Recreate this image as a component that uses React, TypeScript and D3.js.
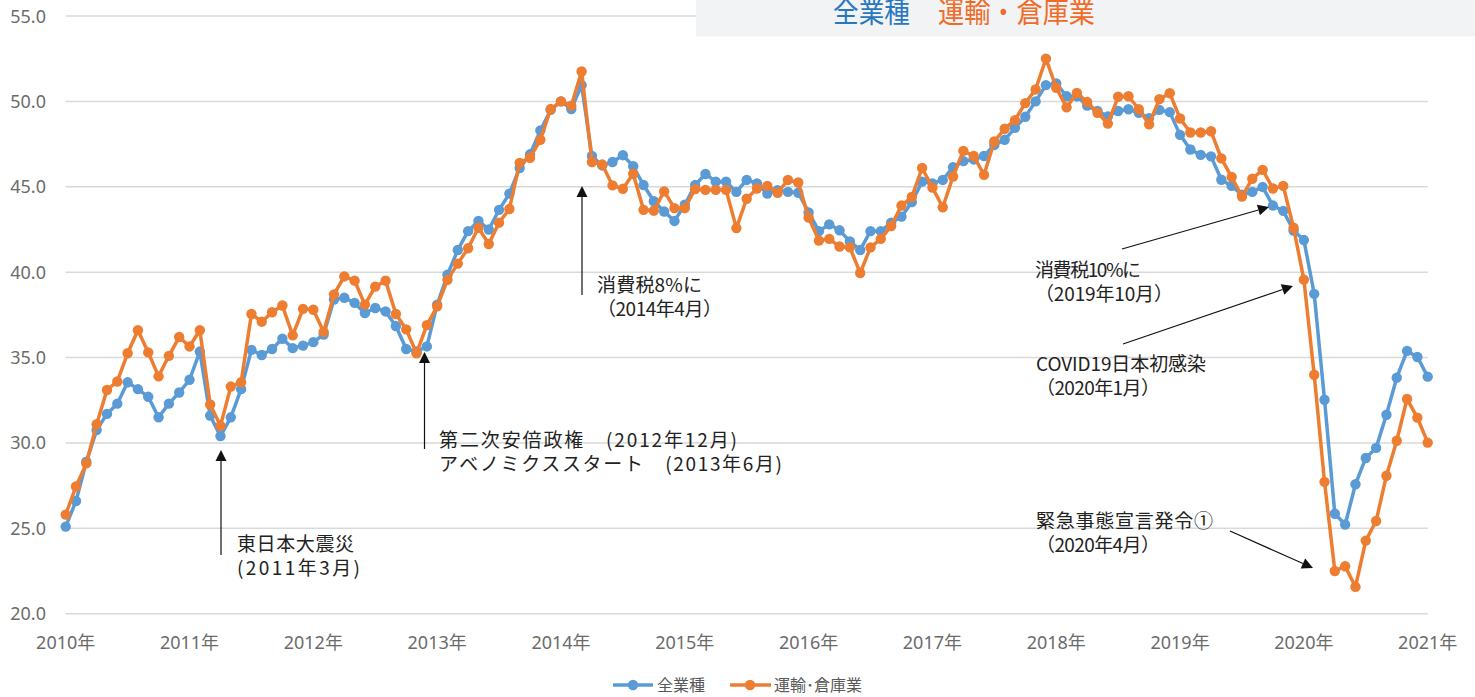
import React from "react";
import * as d3 from "d3";

// Monthly index values, Jan 2010 ... Jan 2021
const allIndustries: number[] = [
  // 2010
  25.1, 26.6, 28.9, 30.75, 31.7, 32.3, 33.55, 33.15, 32.7, 31.5, 32.3, 32.95,
  // 2011
  33.7, 35.35, 31.6, 30.4, 31.5, 33.15, 35.45, 35.15, 35.5, 36.1, 35.55, 35.7,
  // 2012
  35.9, 36.35, 38.4, 38.5, 38.2, 37.6, 37.9, 37.7, 36.85, 35.5, 35.35, 35.65,
  // 2013
  38.1, 39.85, 41.3, 42.4, 43.0, 42.5, 43.65, 44.6, 46.1, 46.9, 48.3, 49.5,
  // 2014
  50.0, 49.55, 50.95, 46.8, 46.25, 46.45, 46.85, 46.2, 45.1, 44.15, 43.55, 43.0,
  // 2015
  43.95, 45.1, 45.75, 45.3, 45.3, 44.7, 45.4, 45.2, 44.6, 44.8, 44.7, 44.65,
  // 2016
  43.5, 42.4, 42.8, 42.45, 41.8, 41.3, 42.4, 42.4, 42.9, 43.25, 44.1, 45.3,
  // 2017
  45.2, 45.4, 46.15, 46.5, 46.6, 46.8, 47.45, 47.75, 48.45, 49.1, 50.0, 50.95,
  // 2018
  51.05, 50.3, 50.3, 49.75, 49.44, 49.12, 49.44, 49.54, 49.33, 49.02, 49.5, 49.37,
  // 2019
  48.04, 47.18, 46.87, 46.78, 45.41, 45.05, 44.53, 44.7, 44.99, 43.9, 43.59, 42.44,
  // 2020
  41.88, 38.73, 32.53, 25.85, 25.22, 27.58, 29.12, 29.71, 31.65, 33.82, 35.39, 35.03,
  // 2021
  33.88,
];

const transportWarehouse: number[] = [
  // 2010
  25.8, 27.45, 28.8, 31.1, 33.1, 33.6, 35.25, 36.6, 35.3, 33.9, 35.1, 36.2,
  // 2011
  35.65, 36.6, 32.25, 31.0, 33.3, 33.55, 37.55, 37.1, 37.65, 38.05, 36.3, 37.85,
  // 2012
  37.8, 36.5, 38.7, 39.75, 39.5, 38.1, 39.15, 39.5, 37.55, 36.65, 35.25, 36.9,
  // 2013
  38.0, 39.55, 40.5, 41.4, 42.6, 41.65, 42.9, 43.7, 46.4, 46.7, 47.75, 49.55,
  // 2014
  50.0, 49.75, 51.75, 46.45, 46.3, 45.08, 44.88, 45.76, 43.65, 43.6, 44.73, 43.75,
  // 2015
  43.75, 44.86, 44.82, 44.82, 44.82, 42.58, 44.3, 44.9, 45.05, 44.65, 45.4, 45.25,
  // 2016
  43.2, 41.85, 41.95, 41.5, 41.45, 39.95, 41.45, 41.95, 42.7, 43.9, 44.4, 46.1,
  // 2017
  44.95, 43.8, 45.6, 47.1, 46.8, 45.7, 47.65, 48.4, 48.9, 49.9, 50.7, 52.5,
  // 2018
  50.8, 49.65, 50.5, 49.96, 49.33, 48.7, 50.27, 50.3, 49.54, 48.66, 50.13, 50.48,
  // 2019
  49.0, 48.18, 48.18, 48.25, 46.66, 45.57, 44.43, 45.47, 45.99, 44.9, 45.05, 42.6,
  // 2020
  39.56, 33.99, 27.72, 22.5, 22.78, 21.57, 24.28, 25.43, 28.08, 30.13, 32.57, 31.48,
  // 2021
  30.02,
];

const yearLabels: string[] = [
  "2010年", "2011年", "2012年", "2013年", "2014年", "2015年",
  "2016年", "2017年", "2018年", "2019年", "2020年", "2021年",
];

const yTicks: number[] = [20, 25, 30, 35, 40, 45, 50, 55];

const seriesNames: string[] = ["全業種", "運輸･倉庫業"];

const titleParts: string[] = ["全業種", "運輸・倉庫業"];

type Annotation = {
  lines: string[];
  widths: number[];
  tx: number;
  ty: number;
  from: [number, number];
  to: [number, number];
};

const annotations: Annotation[] = [
  { lines: ["東日本大震災", "(2011年3月)"], widths: [117, 123], tx: 237, ty: 551, from: [221, 555], to: [221, 450] },
  { lines: ["第二次安倍政権　(2012年12月)", "アベノミクススタート　(2013年6月)"], widths: [298, 343], tx: 439, ty: 446.5, from: [424.5, 449], to: [424.5, 352] },
  { lines: ["消費税8%に", "（2014年4月）"], widths: [105, 125], tx: 597, ty: 291.5, from: [582, 295], to: [582, 186] },
  { lines: ["消費税10%に", "（2019年10月）"], widths: [106, 138], tx: 1035, ty: 276.7, from: [1122, 249], to: [1269, 207] },
  { lines: ["COVID19日本初感染", "（2020年1月）"], widths: [170, 124], tx: 1036, ty: 370.7, from: [1123, 344], to: [1293, 286] },
  { lines: ["緊急事態宣言発令①", "（2020年4月）"], widths: [177, 124], tx: 1036, ty: 528.4, from: [1230, 531], to: [1313, 568] },
];

const W = 1475;
const H = 697;
const BLUE = "#5b9bd5";
const ORANGE = "#ed7d31";

function Arrow({ from, to }: { from: [number, number]; to: [number, number] }) {
  const dx = to[0] - from[0];
  const dy = to[1] - from[1];
  const len = Math.sqrt(dx * dx + dy * dy);
  const ux = dx / len;
  const uy = dy / len;
  const hl = 11;
  const hw = 5.5;
  const bx = to[0] - ux * hl;
  const by = to[1] - uy * hl;
  const p1 = [bx - uy * hw, by + ux * hw];
  const p2 = [bx + uy * hw, by - ux * hw];
  return (
    <g>
      <line x1={from[0]} y1={from[1]} x2={bx} y2={by} stroke="#111" strokeWidth={1.2} />
      <polygon points={`${to[0]},${to[1]} ${p1[0]},${p1[1]} ${p2[0]},${p2[1]}`} fill="#111" />
    </g>
  );
}

export default function App() {
  const n = allIndustries.length;
  const x = d3.scaleLinear().domain([0, n - 1]).range([65.7, 1427.7]);
  const y = d3.scaleLinear().domain([20, 55]).range([613.7, 16]);
  const line = d3
    .line<number>()
    .x((_, i) => x(i))
    .y((d) => y(d));

  const numFont = "'Noto Sans', 'Noto Sans CJK JP', sans-serif";
  const jpFont = "'Noto Sans CJK JP', 'Noto Sans', sans-serif";

  const series = [
    { data: allIndustries, color: BLUE },
    { data: transportWarehouse, color: ORANGE },
  ];

  return (
    <svg
      width={W}
      height={H}
      style={{ position: "absolute", left: 0, top: 0, background: "#fff" }}
    >
      <rect x={0} y={0} width={W} height={H} fill="#fff" />
      {/* gridlines */}
      {yTicks.map((t) => (
        <line
          key={t}
          x1={x(0)}
          x2={x(n - 1)}
          y1={y(t)}
          y2={y(t)}
          stroke="#d9d9d9"
          strokeWidth={1.5}
        />
      ))}
      {/* y labels */}
      {yTicks.map((t) => (
        <text
          key={"yl" + t}
          x={46}
          y={y(t) + 6.5}
          textAnchor="end"
          fontFamily={numFont}
          fontSize={18}
          fill="#6b6b6b"
        >
          {t.toFixed(1)}
        </text>
      ))}
      {/* x labels */}
      {yearLabels.map((lab, k) => (
        <text
          key={lab}
          x={x(k * 12)}
          y={649}
          textAnchor="middle"
          fontFamily={numFont}
          fontSize={18}
          fill="#6b6b6b"
        >
          {lab}
        </text>
      ))}
      {/* series */}
      {series.map((s, si) => (
        <g key={si}>
          <path
            d={line(s.data) || ""}
            fill="none"
            stroke={s.color}
            strokeWidth={3.5}
            strokeLinejoin="round"
          />
          {s.data.map((v, i) => (
            <circle key={i} cx={x(i)} cy={y(v)} r={5.2} fill={s.color} />
          ))}
        </g>
      ))}
      {/* annotations */}
      {annotations.map((a, k) => (
        <g key={"a" + k}>
          <Arrow from={a.from} to={a.to} />
          {a.lines.map((l, li) => (
            <text
              key={li}
              x={a.tx}
              y={a.ty + li * 24}
              fontFamily={jpFont}
              fontSize={19}
              fill="#222"
              textLength={a.widths[li]}
              lengthAdjust="spacing"
            >
              {l}
            </text>
          ))}
        </g>
      ))}
      {/* title box */}
      <rect x={696} y={0} width={W - 696} height={36.5} fill="#f2f3f5" />
      <text
        x={833}
        y={22.5}
        fontFamily={jpFont}
        fontSize={29}
        fill="#2878c0"
        textLength={77}
        lengthAdjust="spacingAndGlyphs"
      >
        {titleParts[0]}
      </text>
      <text
        x={938}
        y={22.5}
        fontFamily={jpFont}
        fontSize={29}
        fill="#f06a28"
        textLength={157}
        lengthAdjust="spacingAndGlyphs"
      >
        {titleParts[1]}
      </text>
      {/* legend */}
      <g>
        <line x1={613} x2={653} y1={685} y2={685} stroke={BLUE} strokeWidth={3.5} />
        <circle cx={633} cy={685} r={5.2} fill={BLUE} />
        <text x={657} y={691} fontFamily={jpFont} fontSize={16} fill="#595959">
          {seriesNames[0]}
        </text>
        <line x1={730} x2={771} y1={685} y2={685} stroke={ORANGE} strokeWidth={3.5} />
        <circle cx={750} cy={685} r={5.2} fill={ORANGE} />
        <text x={774} y={691} fontFamily={jpFont} fontSize={16} fill="#595959">
          {seriesNames[1]}
        </text>
      </g>
    </svg>
  );
}
